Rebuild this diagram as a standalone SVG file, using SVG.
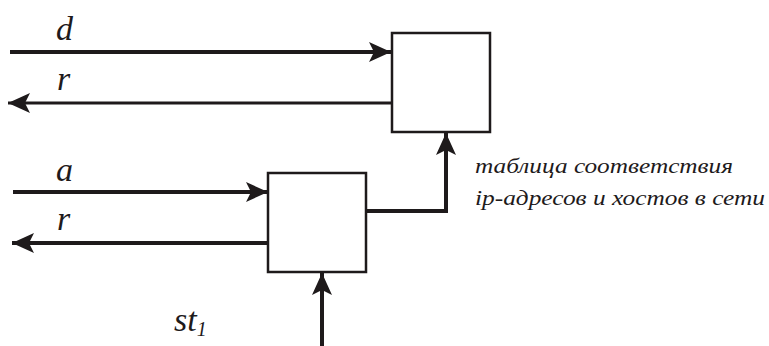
<svg xmlns="http://www.w3.org/2000/svg" width="769" height="346" viewBox="0 0 769 346">
<defs>
<marker id="ah" viewBox="0 0 22 20" refX="22" refY="10" markerWidth="22" markerHeight="20" markerUnits="userSpaceOnUse" orient="auto">
<path d="M0,0 L22,10 L0,20 L5,10 Z" fill="#1e1a1b"/>
</marker>
</defs>
<rect width="769" height="346" fill="#fff"/>
<g id="table-node">
<rect x="392" y="33" width="98" height="99" fill="#fff" stroke="#1e1a1b" stroke-width="2.5"/>
</g>
<g id="process-node">
<rect x="268" y="173" width="98" height="99" fill="#fff" stroke="#1e1a1b" stroke-width="2.5"/>
</g>
<g id="connectors" fill="none" stroke="#1e1a1b" stroke-width="4">
<line x1="10" y1="52" x2="391" y2="52" marker-end="url(#ah)"/>
<line x1="391" y1="103" x2="8" y2="103" stroke-width="3" marker-end="url(#ah)"/>
<line x1="13" y1="192" x2="268" y2="192" marker-end="url(#ah)"/>
<line x1="267" y1="243" x2="12" y2="243" marker-end="url(#ah)"/>
<line x1="322" y1="346" x2="322" y2="273" marker-end="url(#ah)"/>
<polyline points="366,211 446,211 446,133" marker-end="url(#ah)"/>
</g>
<text x="56" y="40" font-size="34" font-family="Liberation Serif" font-style="italic" fill="#1e1a1b">d</text>
<text x="57" y="90" font-size="34" font-family="Liberation Serif" font-style="italic" fill="#1e1a1b">r</text>
<text x="56" y="181" font-size="34" font-family="Liberation Serif" font-style="italic" fill="#1e1a1b">a</text>
<text x="57" y="230" font-size="34" font-family="Liberation Serif" font-style="italic" fill="#1e1a1b">r</text>
<text x="174" y="331" font-size="34" font-family="Liberation Serif" font-style="italic" fill="#1e1a1b">st<tspan font-size="20" dy="5">1</tspan></text>
<text x="475" y="173" font-size="22" font-family="Liberation Serif" font-style="italic" fill="#1e1a1b" textLength="258" lengthAdjust="spacingAndGlyphs">таблица соответствия</text>
<text x="475" y="205" font-size="22" font-family="Liberation Serif" font-style="italic" fill="#1e1a1b" textLength="290" lengthAdjust="spacingAndGlyphs">ip-адресов и хостов в сети</text>
</svg>
